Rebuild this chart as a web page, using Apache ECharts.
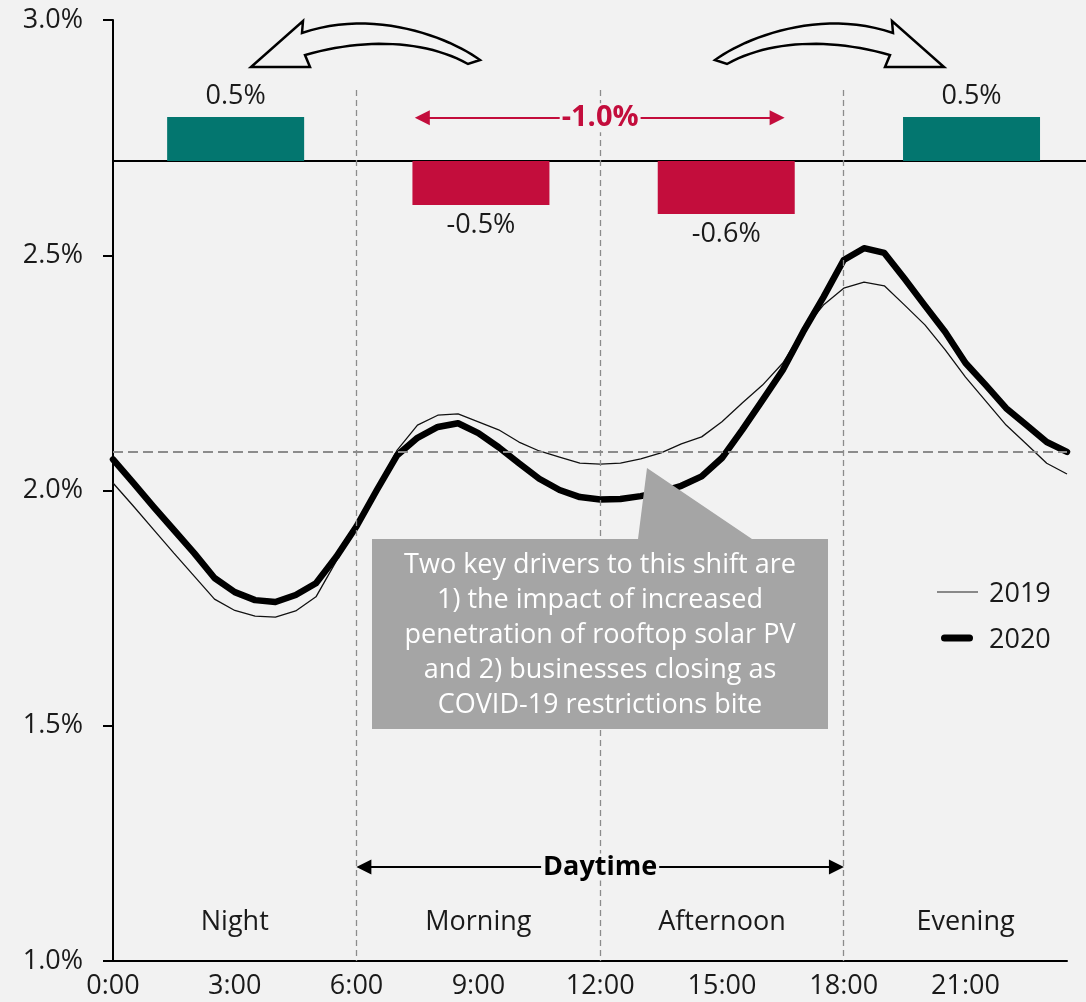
<!DOCTYPE html>
<html>
<head>
<meta charset="utf-8">
<title>Half-hourly share of daily electricity demand, 2019 vs 2020</title>
<script src="https://cdn.jsdelivr.net/npm/echarts@6/dist/echarts.min.js"></script>
<style>
  html, body { margin: 0; padding: 0; background: #f2f2f2; }
  #chart { width: 1086px; height: 1002px; }
</style>
</head>
<body>
<div id="chart"></div>
<script>
// ---- data ---------------------------------------------------------------
const halfHours = [0, 0.5, 1, 1.5, 2, 2.5, 3, 3.5, 4, 4.5, 5, 5.5,
                   6, 6.5, 7, 7.5, 8, 8.5, 9, 9.5, 10, 10.5, 11, 11.5,
                   12, 12.5, 13, 13.5, 14, 14.5, 15, 15.5, 16, 16.5, 17, 17.5,
                   18, 18.5, 19, 19.5, 20, 20.5, 21, 21.5, 22, 22.5, 23, 23.5];

// share of daily demand in each half hour, %
const share2019 = [2.016, 1.967, 1.917, 1.867, 1.818, 1.769, 1.745, 1.733, 1.731, 1.744, 1.774, 1.850,
                   1.924, 2.003, 2.086, 2.139, 2.160, 2.163, 2.146, 2.129, 2.103, 2.084, 2.071, 2.058,
                   2.056, 2.058, 2.067, 2.080, 2.099, 2.114, 2.146, 2.186, 2.224, 2.271, 2.341, 2.394,
                   2.430, 2.443, 2.435, 2.394, 2.352, 2.299, 2.241, 2.190, 2.139, 2.099, 2.058, 2.035];

const share2020 = [2.066, 2.016, 1.965, 1.916, 1.867, 1.814, 1.784, 1.767, 1.763, 1.778, 1.803, 1.859,
                   1.924, 2.001, 2.075, 2.112, 2.135, 2.143, 2.122, 2.092, 2.058, 2.025, 2.001, 1.986,
                   1.981, 1.982, 1.988, 1.997, 2.010, 2.030, 2.069, 2.129, 2.192, 2.256, 2.337, 2.411,
                   2.490, 2.515, 2.505, 2.450, 2.393, 2.337, 2.271, 2.224, 2.175, 2.139, 2.103, 2.082];

const xTickLabels = ['0:00', '3:00', '6:00', '9:00', '12:00', '15:00', '18:00', '21:00'];

const periodNames   = ['Night', 'Morning', 'Afternoon', 'Evening'];
const periodCentres = [3, 9, 15, 21];
const periodShift   = [0.5, -0.5, -0.6, 0.5];   // change in share, percentage points
const periodBounds  = [6, 12, 18];
const daytimeShift  = -1.0;
const flatShare     = 100 / 48;                   // even spread over 48 half hours

const calloutLines = [
  'Two key drivers to this shift are',
  '1) the impact of increased',
  'penetration of rooftop solar PV',
  'and 2) businesses closing as',
  'COVID-19 restrictions bite'
];

// ---- styling ------------------------------------------------------------
const FONT = '"Open Sans", Roboto, "Liberation Sans", sans-serif';
const INK = '#1a1a1a';
const TEAL = '#03766f';
const CRIMSON = '#c30d3c';
const BG = '#f2f2f2';
const GUIDE = '#8c8c8c';
const FS = 27;

const pair = (xs, ys) => xs.map((x, i) => [x, ys[i]]);

function cubic(p0, p1, p2, p3, n) {
  const pts = [];
  for (let i = 0; i <= n; i++) {
    const t = i / n, u = 1 - t;
    pts.push([
      u * u * u * p0[0] + 3 * u * u * t * p1[0] + 3 * u * t * t * p2[0] + t * t * t * p3[0],
      u * u * u * p0[1] + 3 * u * u * t * p1[1] + 3 * u * t * t * p2[1] + t * t * t * p3[1]
    ]);
  }
  return pts;
}

// block arrow sweeping over the top of the chart; mirrored for the left one
function curvedArrow(flip) {
  const pts = [
    ...cubic([715, 60], [745, 38], [820, 8], [893, 33], 24),
    [892, 21], [944, 67], [885, 67],
    ...cubic([890, 55], [830, 38], [770, 40], [727, 64], 24)
  ];
  return flip ? pts.map(p => [1195 - p[0], p[1]]) : pts;
}

const chart = echarts.init(document.getElementById('chart'), null, { renderer: 'canvas' });

const option = {
  backgroundColor: BG,
  animation: false,
  textStyle: { fontFamily: FONT, color: INK },
  grid: [
    { left: 113, right: 19, top: 20, bottom: 41, outerBoundsMode: 'none' },
    { left: 113, right: 0, top: 20, height: 282, outerBoundsMode: 'none' }
  ],
  xAxis: [
    {
      type: 'value', gridIndex: 0, min: 0, max: 23.5, interval: 3,
      axisLine: { show: true, lineStyle: { color: '#000', width: 2 } },
      axisTick: { show: false },
      splitLine: { show: false },
      axisLabel: {
        show: true, margin: 12, fontSize: FS, color: INK, fontFamily: FONT,
        showMaxLabel: false,
        formatter: v => (v % 3 === 0 ? xTickLabels[v / 3] : '')
      }
    },
    {
      type: 'value', gridIndex: 1, min: 0, max: 23.8,
      axisLine: { show: true, onZero: true, lineStyle: { color: '#000', width: 2 } },
      axisTick: { show: false }, axisLabel: { show: false }, splitLine: { show: false }
    }
  ],
  yAxis: [
    {
      type: 'value', gridIndex: 0, min: 1, max: 3, interval: 0.5,
      axisLine: { show: true, lineStyle: { color: '#000', width: 2 } },
      axisTick: { show: true, length: 10, lineStyle: { color: '#000', width: 2 } },
      splitLine: { show: false },
      axisLabel: {
        margin: 30, fontSize: FS, color: INK, fontFamily: FONT,
        formatter: v => v.toFixed(1) + '%'
      }
    },
    {
      type: 'value', gridIndex: 1, min: -1.6, max: 1.6,
      axisLine: { show: false }, axisTick: { show: false },
      axisLabel: { show: false }, splitLine: { show: false }
    }
  ],
  series: [
    // dashed guides: period boundaries and the flat-profile level
    {
      type: 'line', name: 'guides', xAxisIndex: 0, yAxisIndex: 0, data: [], silent: true, z: 1,
      markLine: {
        silent: true, symbol: 'none', animation: false, label: { show: false },
        lineStyle: { color: GUIDE, width: 1.3, type: [6, 4] },
        data: [
          ...periodBounds.map(h => [{ coord: [h, 2.851] }, { coord: [h, 1] }]),
          [{ coord: [0, flatShare], lineStyle: { color: GUIDE, width: 2, type: [10, 5] } },
           { coord: [23.5, flatShare] }]
        ]
      }
    },
    // daytime span arrow
    {
      type: 'line', name: 'daytime', xAxisIndex: 0, yAxisIndex: 0, data: [], silent: true, z: 2,
      markLine: {
        silent: true, symbol: ['triangle', 'triangle'], symbolSize: [15, 15], animation: false,
        label: { show: false },
        lineStyle: { color: '#000', width: 2, type: 'solid' },
        data: [[{ coord: [6.18, 1.2] }, { coord: [17.82, 1.2] }]]
      }
    },
    // daytime total shift arrow
    {
      type: 'line', name: 'daytimeShift', xAxisIndex: 0, yAxisIndex: 0, data: [], silent: true, z: 2,
      markLine: {
        silent: true, symbol: ['triangle', 'triangle'], symbolSize: [15, 15], animation: false,
        label: { show: false },
        lineStyle: { color: CRIMSON, width: 2, type: 'solid' },
        data: [[{ coord: [7.62, 2.792] }, { coord: [16.36, 2.792] }]]
      }
    },
    {
      type: 'line', name: '2019', xAxisIndex: 0, yAxisIndex: 0, z: 3,
      data: pair(halfHours, share2019),
      symbol: 'none', showSymbol: false,
      lineStyle: { color: '#111', width: 1.3 }
    },
    {
      type: 'line', name: '2020', xAxisIndex: 0, yAxisIndex: 0, z: 4,
      data: pair(halfHours, share2020),
      symbol: 'none', showSymbol: false,
      lineStyle: { color: '#000', width: 6.5, cap: 'round', join: 'round' }
    },
    // change in share by period
    {
      type: 'bar', name: 'shift', xAxisIndex: 1, yAxisIndex: 1, barWidth: 137, z: 5,
      data: periodShift.map((v, i) => ({
        value: [periodCentres[i], v],
        itemStyle: { color: v > 0 ? TEAL : CRIMSON },
        label: { position: v > 0 ? 'top' : 'bottom' }
      })),
      label: {
        show: true, distance: 7, fontSize: FS, color: INK, fontFamily: FONT,
        formatter: p => p.value[1].toFixed(1) + '%'
      }
    },
    // period names along the bottom
    {
      type: 'scatter', name: 'periods', xAxisIndex: 0, yAxisIndex: 0, z: 6, silent: true,
      symbolSize: 1, itemStyle: { color: 'rgba(0,0,0,0)', opacity: 1 },
      data: periodNames.map((n, i) => ({ name: n, value: [periodCentres[i], 1.083] })),
      label: { show: true, position: 'inside', formatter: '{b}', fontSize: FS, color: INK,
               fontFamily: FONT }
    },
    // captions sitting on the two span arrows
    {
      type: 'scatter', name: 'captions', xAxisIndex: 0, yAxisIndex: 0, z: 7, silent: true,
      symbolSize: 1, itemStyle: { color: 'rgba(0,0,0,0)', opacity: 1 },
      data: [
        { name: 'Daytime', value: [12, 1.2],
          label: { color: '#000', fontSize: 27 } },
        { name: daytimeShift.toFixed(1) + '%', value: [12, 2.792],
          label: { color: CRIMSON, fontSize: 29 } }
      ],
      label: { show: true, position: 'inside', formatter: '{b}', fontWeight: 'bold',
               fontFamily: FONT, backgroundColor: BG, padding: [0, 2] }
    }
  ],
  graphic: [
    // callout box with pointer
    {
      type: 'polygon', z: 50, silent: true,
      shape: { points: [[372, 539], [638, 539], [647, 468], [752, 539], [828, 539], [828, 729], [372, 729]] },
      style: { fill: '#a5a5a5' }
    },
    {
      type: 'text', z: 51, silent: true, x: 600, y: 635,
      style: {
        text: calloutLines.join('\n'), fill: '#ffffff',
        font: FS + 'px ' + FONT, lineHeight: 35,
        textAlign: 'center', textVerticalAlign: 'middle'
      }
    },
    // sweeping arrows over the top
    {
      type: 'polygon', z: 50, silent: true,
      shape: { points: curvedArrow(true) },
      style: { fill: BG, stroke: '#000', lineWidth: 2.5, lineJoin: 'miter' }
    },
    {
      type: 'polygon', z: 50, silent: true,
      shape: { points: curvedArrow(false) },
      style: { fill: BG, stroke: '#000', lineWidth: 2.5, lineJoin: 'miter' }
    },
    // legend
    {
      type: 'line', z: 50, silent: true,
      shape: { x1: 937, y1: 592, x2: 978, y2: 592 },
      style: { stroke: '#666', lineWidth: 1.5 }
    },
    {
      type: 'text', z: 50, silent: true, x: 989, y: 594,
      style: { text: '2019', fill: INK, font: FS + 'px ' + FONT, textAlign: 'left', textVerticalAlign: 'middle' }
    },
    {
      type: 'line', z: 50, silent: true,
      shape: { x1: 944.5, y1: 638, x2: 969.5, y2: 638 },
      style: { stroke: '#000', lineWidth: 7, lineCap: 'round' }
    },
    {
      type: 'text', z: 50, silent: true, x: 989, y: 640,
      style: { text: '2020', fill: INK, font: FS + 'px ' + FONT, textAlign: 'left', textVerticalAlign: 'middle' }
    }
  ]
};

chart.setOption(option);
</script>
</body>
</html>
